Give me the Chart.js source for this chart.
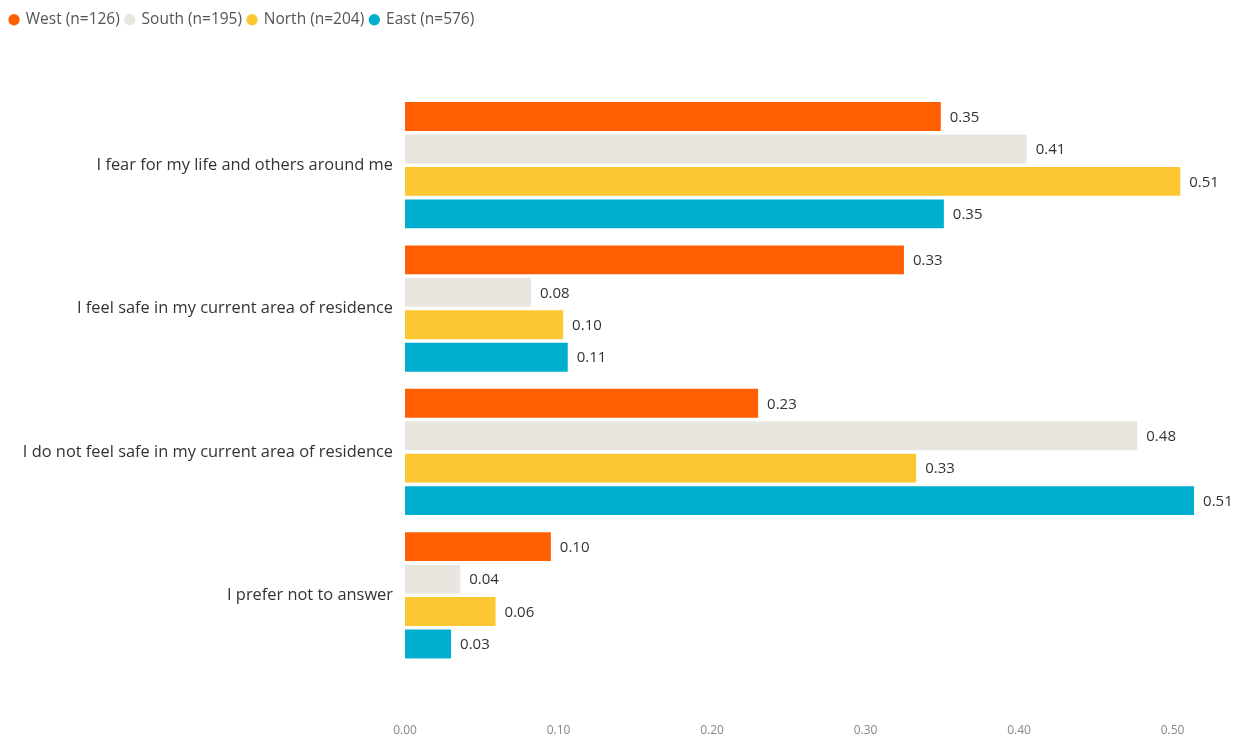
<!DOCTYPE html>
<html>
<head>
<meta charset="utf-8">
<script src="https://cdn.jsdelivr.net/npm/chart.js@4"></script>
<style>
  html, body { margin: 0; padding: 0; background: #fff; overflow: hidden; }
  canvas { display: block; }
</style>
</head>
<body>
<canvas id="myChart" width="1234" height="735"></canvas>
<script>
const answers = [
  'I fear for my life and others around me',
  'I feel safe in my current area of residence',
  'I do not feel safe in my current area of residence',
  'I prefer not to answer'
];

const west  = [0.349, 0.325, 0.230, 0.095];
const south = [0.405, 0.082, 0.477, 0.036];
const north = [0.505, 0.103, 0.333, 0.059];
const east  = [0.351, 0.106, 0.514, 0.030];

const regionNames  = ['West (n=126)', 'South (n=195)', 'North (n=204)', 'East (n=576)'];
const regionColors = ['#FF5F00', '#E8E6DE', '#FDC731', '#00AECF'];
const xTicks = [0, 0.1, 0.2, 0.3, 0.4, 0.5];

const FONT = '"Open Sans", "Noto Sans", sans-serif';

// value text at the end of each bar
const valueLabels = {
  id: 'valueLabels',
  afterDatasetsDraw(chart) {
    const ctx = chart.ctx;
    ctx.save();
    ctx.font = '15px ' + FONT;
    ctx.fillStyle = '#333';
    ctx.textBaseline = 'middle';
    ctx.textAlign = 'left';
    chart.data.datasets.forEach((ds, i) => {
      chart.getDatasetMeta(i).data.forEach((bar, j) => {
        ctx.fillText(ds.data[j].toFixed(2), bar.x + 9, bar.y + 1);
      });
    });
    ctx.restore();
  }
};

// extra room under the legend
const legendGap = {
  id: 'legendGap',
  beforeInit(chart) {
    const fit = chart.legend.fit;
    chart.legend.fit = function () {
      fit.bind(this)();
      this.height += 56;
    };
  }
};

const datasets = [west, south, north, east].map((vals, i) => ({
  label: regionNames[i],
  data: vals,
  backgroundColor: regionColors[i],
  borderWidth: 0,
  barPercentage: 0.89,
  categoryPercentage: 0.905
}));

const ctx = document.getElementById('myChart').getContext('2d');

new Chart(ctx, {
  type: 'bar',
  data: { labels: answers, datasets: datasets },
  options: {
    indexAxis: 'y',
    responsive: false,
    animation: false,
    layout: { padding: { left: 4, right: 0, top: 6, bottom: 0 } },
    scales: {
      x: {
        min: 0,
        max: 0.54,
        grid: { display: false },
        border: { display: false },
        afterBuildTicks(scale) {
          scale.ticks = xTicks.map(v => ({ value: v }));
        },
        afterFit(scale) { scale.height = 68; },
        ticks: {
          color: '#888',
          font: { size: 12, family: FONT },
          padding: 48,
          callback: v => Number(v).toFixed(2)
        }
      },
      y: {
        grid: { display: false },
        border: { display: false },
        afterFit(scale) { scale.width = 401; },
        ticks: {
          color: '#333',
          font: { size: 16.4, family: FONT },
          padding: 4
        }
      }
    },
    plugins: {
      legend: {
        position: 'top',
        align: 'start',
        labels: {
          usePointStyle: true,
          pointStyle: 'circle',
          boxWidth: 8,
          boxHeight: 8,
          padding: 6,
          color: '#555',
          font: { size: 15.5, family: FONT }
        }
      },
      tooltip: { enabled: false }
    }
  },
  plugins: [valueLabels, legendGap]
});
</script>
</body>
</html>
